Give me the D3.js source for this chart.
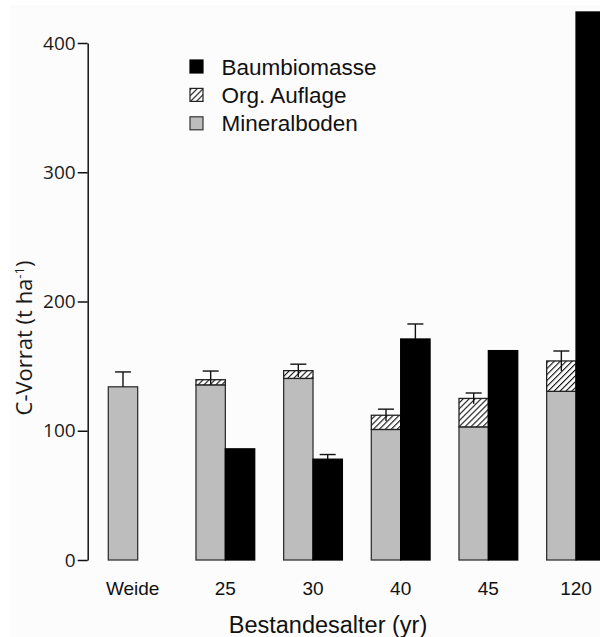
<!DOCTYPE html>
<html>
<head>
<meta charset="utf-8">
<script src="https://cdn.jsdelivr.net/npm/d3@7"></script>
<style>
  html, body { margin: 0; padding: 0; background: #ffffff; }
  svg { display: block; }
</style>
</head>
<body>
<script>
// Kohlenstoffvorrat nach Bestandesalter
const categories = ["Weide", "25", "30", "40", "45", "120"];
const mineralboden = [134, 135.5, 140.5, 101, 103, 130.5];
const orgAuflage = [0, 4, 6, 11, 22, 23.5];
const stackError = [11.5, 6.7, 5, 4.7, 4.2, 7.7];
const baumbiomasse = [0, 86, 78, 171, 162, 424];
const biomasseError = [0, 0, 3.6, 11.6, 0, 0];
const yTicks = [0, 100, 200, 300, 400];
const legendLabels = ["Baumbiomasse", "Org. Auflage", "Mineralboden"];

const W = 600, H = 637;
const svg = d3.select("body").append("svg").attr("width", W).attr("height", H);

svg.append("rect").attr("x", 10).attr("y", 5).attr("width", W - 10).attr("height", H - 5)
  .attr("fill", "#fcfcfc");

const defs = svg.append("defs");
const pat = defs.append("pattern")
  .attr("id", "hatch").attr("patternUnits", "userSpaceOnUse")
  .attr("width", 4.2).attr("height", 4.2)
  .attr("patternTransform", "rotate(45)");
pat.append("rect").attr("width", 4.2).attr("height", 4.2).attr("fill", "#ffffff");
pat.append("line").attr("x1", 0).attr("y1", 0).attr("x2", 0).attr("y2", 4.2)
  .attr("stroke", "#111").attr("stroke-width", 2.2);

const y = d3.scaleLinear().domain([0, 400]).range([560, 43]);
const x = d3.scaleBand().domain(categories).range([108.3, 605.4])
  .paddingInner(0.33).paddingOuter(0);
const half = x.bandwidth() / 2;

const data = categories.map((c, i) => ({
  c, min: mineralboden[i], org: orgAuflage[i], err: stackError[i],
  bio: baumbiomasse[i], bioErr: biomasseError[i]
}));

// Mineralboden
svg.append("g").selectAll("rect").data(data).join("rect")
  .attr("x", d => x(d.c)).attr("width", half)
  .attr("y", d => y(d.min)).attr("height", d => y(0) - y(d.min))
  .attr("fill", "#bdbdbd").attr("stroke", "#333").attr("stroke-width", 1.3);

// Org. Auflage
svg.append("g").selectAll("rect").data(data.filter(d => d.org > 0)).join("rect")
  .attr("x", d => x(d.c)).attr("width", half)
  .attr("y", d => y(d.min + d.org)).attr("height", d => y(d.min) - y(d.min + d.org))
  .attr("fill", "url(#hatch)").attr("stroke", "#222").attr("stroke-width", 1.3);

// Baumbiomasse
svg.append("g").selectAll("rect").data(data).join("rect")
  .attr("x", d => x(d.c) + half).attr("width", half)
  .attr("y", d => y(d.bio)).attr("height", d => y(0) - y(d.bio))
  .attr("fill", "#000").attr("stroke", "#000").attr("stroke-width", 1.3);

// Fehlerbalken
const capW = 16;
const eb = svg.append("g").attr("stroke", "#111").attr("stroke-width", 1.4).attr("fill", "none");
data.forEach(d => {
  const cx = x(d.c) + half / 2;
  const top = d.min + d.org;
  const low = d.org > 0 ? Math.max(top - d.err, d.min) : top;
  eb.append("line").attr("x1", cx).attr("x2", cx).attr("y1", y(top + d.err)).attr("y2", y(low));
  eb.append("line").attr("x1", cx - capW / 2).attr("x2", cx + capW / 2)
    .attr("y1", y(top + d.err)).attr("y2", y(top + d.err));
  if (d.bioErr > 0) {
    const bx = x(d.c) + half * 1.5;
    eb.append("line").attr("x1", bx).attr("x2", bx).attr("y1", y(d.bio + d.bioErr)).attr("y2", y(d.bio));
    eb.append("line").attr("x1", bx - capW / 2).attr("x2", bx + capW / 2)
      .attr("y1", y(d.bio + d.bioErr)).attr("y2", y(d.bio + d.bioErr));
  }
});

// y-Achse
const yAxis = svg.append("g").attr("transform", "translate(87.7,0)")
  .call(d3.axisLeft(y).tickValues(yTicks).tickSize(10).tickSizeOuter(0).tickPadding(2));
yAxis.select(".domain").attr("stroke", "#111").attr("stroke-width", 1.5);
yAxis.selectAll(".tick line").attr("stroke", "#111").attr("stroke-width", 1.5);
yAxis.selectAll(".tick text").attr("font-family", "'Open Sans', sans-serif")
  .attr("font-size", 19).attr("fill", "#1a1a1a");

// x-Beschriftungen
svg.append("g").selectAll("text").data(categories).join("text")
  .attr("x", d => x(d) + half).attr("y", 595)
  .attr("dx", (d, i) => i === 0 ? -5 : 0)
  .attr("text-anchor", "middle")
  .attr("font-family", "'Liberation Sans', Arial, sans-serif").attr("font-size", 19)
  .attr("fill", "#111").text(d => d);

// Achsentitel
svg.append("text").attr("x", 328).attr("y", 633).attr("text-anchor", "middle")
  .attr("font-family", "'Liberation Sans', Arial, sans-serif").attr("font-size", 23.5)
  .attr("fill", "#111").text("Bestandesalter (yr)");

const yt = svg.append("text").attr("transform", "translate(31.5,338) rotate(-90)")
  .attr("text-anchor", "middle")
  .attr("font-family", "'Open Sans', sans-serif").attr("font-size", 22).attr("fill", "#1a1a1a");
yt.append("tspan").text("C-Vorrat (t ha");
yt.append("tspan").attr("font-size", 13).attr("dy", -8).text("-1");
yt.append("tspan").attr("dy", 8).text(")");

// Legende
const legFill = ["#000", "url(#hatch)", "#bdbdbd"];
const legStroke = ["#000", "#222", "#333"];
const leg = svg.append("g");
legendLabels.forEach((t, i) => {
  const cy = 66.5 + i * 28.4;
  leg.append("rect").attr("x", 190).attr("y", cy - 6.5).attr("width", 13).attr("height", 13)
    .attr("fill", legFill[i]).attr("stroke", legStroke[i]).attr("stroke-width", 1.2);
  leg.append("text").attr("x", 221.5).attr("y", cy + 8)
    .attr("font-family", "'Liberation Sans', Arial, sans-serif").attr("font-size", 22.5)
    .attr("fill", "#111").text(t);
});
</script>
</body>
</html>
